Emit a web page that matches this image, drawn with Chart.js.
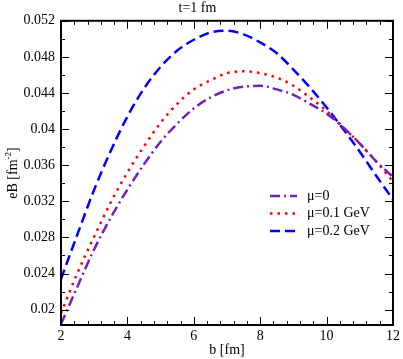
<!DOCTYPE html>
<html>
<head>
<meta charset="utf-8">
<script src="https://cdn.jsdelivr.net/npm/chart.js@4/dist/chart.umd.min.js"></script>
<style>
html,body{margin:0;padding:0;background:#fff;}
#wrap{width:403px;height:359px;position:relative;}
</style>
</head>
<body>
<div id="wrap"><canvas id="chart-eb" width="403" height="359"></canvas></div>
<script>
// impact parameter b [fm]
const bVals = [2,2.5,3,3.5,4,4.5,5,5.5,6,6.5,7,7.5,8,8.5,9,9.5,10,10.5,11,11.5,12];
// eB [fm^-2] for each chemical potential
const muZero = [0.0184,0.0226,0.0267,0.0302,0.0333,0.0361,0.0386,0.0406,0.0423,0.0435,0.0443,0.0447,0.0448,0.0444,0.0438,0.0428,0.0417,0.0402,0.0384,0.0364,0.0347];
const muOne  = [0.0196,0.0241,0.0281,0.0319,0.0352,0.0381,0.0407,0.0428,0.0444,0.0454,0.0462,0.0464,0.0462,0.0457,0.0448,0.0435,0.0420,0.0402,0.0384,0.0364,0.0342];
const muTwo  = [0.0234,0.0284,0.0333,0.0376,0.0414,0.0445,0.0469,0.0487,0.0499,0.0507,0.0509,0.0505,0.0496,0.0484,0.0466,0.0446,0.0424,0.0400,0.0375,0.0348,0.0322];
const seriesLabels = ['\u03bc=0','\u03bc=0.1 GeV','\u03bc=0.2 GeV'];
const xTicks = [2,4,6,8,10,12];
const yTicks = [0.02,0.024,0.028,0.032,0.036,0.04,0.044,0.048,0.052];

const FONT = 'Liberation Serif, Times New Roman, serif';

function pts(arr){return bVals.map((b,i)=>({x:b,y:arr[i]}));}

// frame + inward ticks on all four sides
const framePlugin = {
  id:'frame',
  afterDatasetsDraw(chart){
    const {ctx, chartArea:a, scales:{x,y}} = chart;
    ctx.save();
    ctx.strokeStyle='#000'; ctx.lineWidth=1;
    ctx.beginPath();
    for(let v=2; v<=12.0001; v+=0.4){
      const px=Math.round(x.getPixelForValue(v))+0.5;
      const major=xTicks.some(t=>Math.abs(t-v)<1e-6);
      const len=major?8:4;
      ctx.moveTo(px,a.bottom); ctx.lineTo(px,a.bottom-len);
      ctx.moveTo(px,a.top); ctx.lineTo(px,a.top+len);
    }
    for(let v=0.02; v<=0.0521; v+=0.002){
      const py=Math.round(y.getPixelForValue(v))+0.5;
      const major=yTicks.some(t=>Math.abs(t-v)<1e-7);
      const len=major?8:4;
      ctx.moveTo(a.left,py); ctx.lineTo(a.left+len,py);
      ctx.moveTo(a.right,py); ctx.lineTo(a.right-len,py);
    }
    ctx.stroke();
    ctx.lineWidth=2;
    ctx.strokeRect(a.left,a.top,a.right-a.left,a.bottom-a.top);
    ctx.restore();
  }
};

// legend inside the plot, plus y title with superscript
const extrasPlugin = {
  id:'extras',
  afterDraw(chart){
    const {ctx} = chart;
    ctx.save();
    const rows=[196,213.5,231];
    chart.data.datasets.forEach((ds,i)=>{
      ctx.beginPath();
      ctx.strokeStyle=ds.borderColor; ctx.lineWidth=ds.borderWidth;
      ctx.setLineDash(ds.borderDash||[]);
      ctx.moveTo(270,rows[i]); ctx.lineTo(297,rows[i]);
      ctx.stroke();
      ctx.setLineDash([]);
      ctx.fillStyle='#000'; ctx.font='14px '+FONT;
      ctx.textBaseline='middle'; ctx.textAlign='left';
      ctx.fillText(ds.label,307,rows[i]);
    });
    // y axis title eB [fm^-2]
    ctx.translate(12,173);
    ctx.rotate(-Math.PI/2);
    ctx.font='14px '+FONT;
    const p1='eB [fm', p2='-2', p3=']';
    ctx.font='9px '+FONT; const w2=ctx.measureText(p2).width;
    ctx.font='14px '+FONT; const w1=ctx.measureText(p1).width, w3=ctx.measureText(p3).width;
    let sx=-(w1+w2+w3)/2;
    ctx.textBaseline='alphabetic'; ctx.textAlign='left'; ctx.fillStyle='#000';
    ctx.fillText(p1,sx,5);
    ctx.font='9px '+FONT; ctx.fillText(p2,sx+w1,-1);
    ctx.font='14px '+FONT; ctx.fillText(p3,sx+w1+w2,5);
    ctx.restore();
  }
};

new Chart(document.getElementById('chart-eb'),{
  type:'line',
  data:{
    datasets:[
      {label:seriesLabels[0],data:pts(muZero),borderColor:'rgb(114,33,188)',borderWidth:2.5,borderDash:[10,4,2,4],pointRadius:0,fill:false,cubicInterpolationMode:'monotone'},
      {label:seriesLabels[1],data:pts(muOne),borderColor:'#ff0000',borderWidth:2.5,borderDash:[2.5,5],pointRadius:0,fill:false,cubicInterpolationMode:'monotone'},
      {label:seriesLabels[2],data:pts(muTwo),borderColor:'#0000ff',borderWidth:2.5,borderDash:[10,5],pointRadius:0,fill:false,cubicInterpolationMode:'monotone'}
    ]
  },
  options:{
    responsive:false,
    animation:false,
    layout:{padding:{left:0,right:8,top:0,bottom:0}},
    plugins:{
      legend:{display:false},
      tooltip:{enabled:false},
      title:{display:true,text:'t=1 fm',color:'#000',font:{family:FONT,size:14,weight:'normal'},padding:{top:0,bottom:4}}
    },
    scales:{
      x:{
        type:'linear',min:2,max:12,
        grid:{display:false,drawTicks:false},
        border:{display:false},
        afterBuildTicks:ax=>{ax.ticks=xTicks.map(v=>({value:v}));},
        ticks:{color:'#000',font:{family:FONT,size:14},padding:3,maxRotation:0},
        title:{display:true,text:'b [fm]',color:'#000',font:{family:FONT,size:14},padding:{top:0,bottom:0}},
        afterFit:ax=>{ax.height=34;}
      },
      y:{
        type:'linear',min:0.0183,max:0.052,
        grid:{display:false,drawTicks:false},
        border:{display:false},
        afterBuildTicks:ax=>{ax.ticks=yTicks.map(v=>({value:v}));},
        ticks:{color:'#000',font:{family:FONT,size:14},padding:6,callback:v=>String(v)},
        afterFit:ax=>{ax.width=61;}
      }
    }
  },
  plugins:[framePlugin,extrasPlugin]
});
</script>
</body>
</html>
